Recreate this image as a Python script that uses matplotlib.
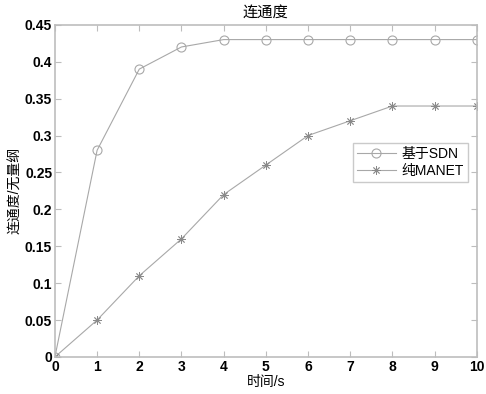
import matplotlib
matplotlib.use("Agg")
import matplotlib.pyplot as plt

plt.rcParams["font.family"] = ["Liberation Sans", "Noto Sans CJK SC", "DejaVu Sans"]

time_s = [0, 1, 2, 3, 4, 5, 6, 7, 8, 9, 10]
sdn = [0, 0.28, 0.39, 0.42, 0.43, 0.43, 0.43, 0.43, 0.43, 0.43, 0.43]
manet = [0, 0.05, 0.11, 0.16, 0.22, 0.26, 0.30, 0.32, 0.34, 0.34, 0.34]
y_ticks = [0, 0.05, 0.1, 0.15, 0.2, 0.25, 0.3, 0.35, 0.4, 0.45]
y_labels = ["0", "0.05", "0.1", "0.15", "0.2", "0.25", "0.3", "0.35", "0.4", "0.45"]

line_color = "#a8a8a8"
frame_color = "#bdbdbd"

fig = plt.figure(figsize=(4.86, 3.94), dpi=100)
ax = fig.add_axes([0.113, 0.094, 0.868, 0.843])

ax.plot(time_s, sdn, color=line_color, lw=0.8, marker="o", markersize=6.5,
        markerfacecolor="none", markeredgecolor=line_color, markeredgewidth=0.8,
        label="基于SDN")
ax.plot(time_s, manet, color=line_color, lw=0.8, marker=(8, 2, 0), markersize=6,
        markerfacecolor="none", markeredgecolor="#8a8a8a", markeredgewidth=0.6,
        label="纯MANET")

ax.set_xlim(0, 10)
ax.set_ylim(0, 0.45)
ax.set_xticks(time_s)
ax.set_yticks(y_ticks)
ax.set_yticklabels(y_labels)

for side in ax.spines.values():
    side.set_color(frame_color)
    side.set_linewidth(1.2)

ax.tick_params(direction="in", length=4, color=frame_color, top=True, right=True,
               labelsize=10, pad=2)
for lab in ax.get_xticklabels() + ax.get_yticklabels():
    lab.set_fontweight("bold")

ax.set_title("连通度", fontsize=11, pad=6)
ax.set_xlabel("时间/s", fontsize=10, labelpad=1)
ax.set_ylabel("连通度/无量纲", fontsize=10, labelpad=2)

leg = ax.legend(loc="upper right", bbox_to_anchor=(0.995, 0.665), fontsize=10,
                frameon=True, fancybox=False, handlelength=2.8, borderpad=0.3,
                labelspacing=0.2, handletextpad=0.4)
leg.get_frame().set_edgecolor(frame_color)
leg.get_frame().set_linewidth(1.0)

fig.savefig("out.png", dpi=100)
